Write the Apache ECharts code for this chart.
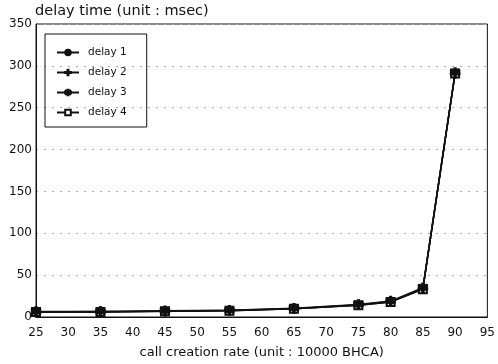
<!DOCTYPE html>
<html><head><meta charset="utf-8">
<script src="https://cdn.jsdelivr.net/npm/echarts@6/dist/echarts.min.js"></script>
<style>html,body{margin:0;padding:0;background:#fff}#c{width:498px;height:364px}</style>
</head><body><div id="c"></div>
<script>
const rates = [25, 35, 45, 55, 65, 75, 80, 85, 90];
const delay1 = [6, 6, 7, 7.5, 10, 14, 18, 34, 292];
const delay2 = [6, 6.5, 7, 8, 10, 14.5, 18.5, 34, 291];
const delay3 = [6.5, 6.5, 7.5, 8, 10.5, 15, 19, 35, 292];
const delay4 = [6, 6, 7, 7.5, 10, 14, 18, 33, 291];
const names = ['delay 1', 'delay 2', 'delay 3', 'delay 4'];
const yTicks = [0, 50, 100, 150, 200, 250, 300, 350];

const symbols = [
  'circle',
  'path://M3.3,0H4.7V3.3H8V4.7H4.7V8H3.3V4.7H0V3.3H3.3Z',
  'path://M3.4,0H4.6V2.6L6.8,1.2L7.5,2.2L5.2,3.8L7.5,5.4L6.8,6.4L4.6,5V8H3.4V5L1.2,6.4L0.5,5.4L2.8,3.8L0.5,2.2L1.2,1.2L3.4,2.6Z',
  'emptyRect'
];
const sizes = [4, 9, 9, 8];
const zs = [4, 5, 6, 3];
const all = [delay1, delay2, delay3, delay4];

const chart = echarts.init(document.getElementById('c'));
const font = 'DejaVu Sans, Verdana, sans-serif';
chart.setOption({
  animation: false,
  backgroundColor: '#fff',
  textStyle: {fontFamily: font},
  title: {
    text: 'delay time (unit : msec)', left: 35, top: 4, padding: 0,
    textStyle: {fontSize: 14.5, fontWeight: 'normal', color: '#111', fontFamily: font}
  },
  legend: {
    orient: 'vertical', left: 45, top: 34,
    padding: [12, 20, 8, 11], itemGap: 7, itemWidth: 22, itemHeight: 7,
    borderColor: '#111', borderWidth: 1,
    textStyle: {fontSize: 10.5, lineHeight: 13, color: '#111', fontFamily: font, padding: [0, 0, 0, 4]},
    data: names
  },
  grid: {left: 36, right: 4, top: 24, bottom: 44, show: true, borderColor: '#111', borderWidth: 1},
  xAxis: {
    type: 'value', min: 25, max: 95, interval: 5,
    name: 'call creation rate (unit : 10000 BHCA)', nameLocation: 'middle', nameGap: 29,
    nameTextStyle: {fontSize: 13, color: '#111', fontFamily: font},
    axisLine: {lineStyle: {color: '#111', width: 1}},
    axisTick: {show: false},
    axisLabel: {fontSize: 12, color: '#111', margin: 10, fontFamily: font},
    splitLine: {show: false}
  },
  yAxis: {
    type: 'value', min: yTicks[0], max: yTicks[yTicks.length - 1], interval: 50,
    axisLine: {show: true, lineStyle: {color: '#111', width: 1}},
    axisTick: {show: false},
    axisLabel: {fontSize: 12, color: '#111', margin: 4, fontFamily: font},
    splitLine: {show: true, lineStyle: {color: '#aaa', type: [2, 6], width: 1}}
  },
  series: all.map((d, i) => ({
    name: names[i], type: 'line',
    data: rates.map((r, j) => [r, d[j]]),
    symbol: symbols[i], symbolSize: sizes[i], showSymbol: true,
    itemStyle: {color: '#111', borderColor: '#111', borderWidth: 1.5},
    lineStyle: {color: '#111', width: 1.5},
    z: zs[i]
  }))
});
</script></body></html>
